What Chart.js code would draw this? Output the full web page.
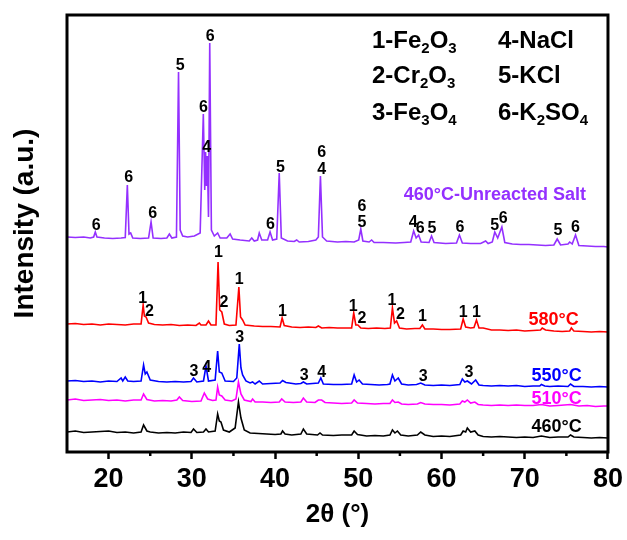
<!DOCTYPE html>
<html lang="en">
<head>
<meta charset="UTF-8" />
<title>XRD patterns - corrosion products</title>
<script src="https://cdn.jsdelivr.net/npm/chart.js"></script>
<style>
  html, body { margin: 0; padding: 0; background: #fff; }
</style>
</head>
<body>
<canvas id="xrd" width="627" height="540"></canvas>
<script>
// 2theta (deg) / intensity (a.u., stacked with offsets as in the figure)
const xrd460 = [[15,20],[16,21],[17,19.5],[18,20],[19,20.5],[20,21],[21,19.5],[22,20],[23,19],[23.9,20],[24.2,27],[24.6,21],[25,20],[26,19],[27,19.5],[28,19],[29,20],[29.9,19.5],[30.2,23],[30.6,19.5],[31.4,20],[31.7,23],[32,20],[32.8,21],[33.1,38],[33.3,31],[33.5,30],[33.8,22],[34.5,20],[35.2,24],[35.6,50],[35.9,34],[36.3,22],[37,19],[38,18.5],[39,18],[40,17.5],[40.7,18],[40.9,21],[41.2,18],[42,17],[43.1,18],[43.4,23],[43.8,18],[45.1,17],[45.4,19],[45.7,17],[47,16.5],[48,17],[49.2,17],[49.5,21],[49.9,17.5],[51,16],[52,16.5],[53,16],[53.8,17],[54.1,22],[54.4,19],[54.7,21],[55.1,17],[56,16],[57.1,17],[57.5,20],[58,17],[59,15.5],[60,16],[61,15.5],[62.3,17],[62.6,21],[62.9,20],[63.1,24],[63.5,20],[64,21],[64.4,17],[65,15.5],[66,15],[67,15.5],[68,15],[69,14.5],[70,15],[71,14.5],[72,16],[73,14.5],[74,15],[75.2,15],[75.5,17],[75.9,15],[77,14.5],[78,14],[79,14.5],[80,14]];

const xrd510 = [[15,52],[16,53],[17,51.5],[18,52],[19,52.5],[20,51.5],[21,52],[22,51],[23,52],[23.9,52],[24.2,58],[24.6,52.5],[25.5,51],[26.5,51.5],[27.5,51],[28.2,52],[28.5,55],[28.9,51.5],[30,50.5],[31.1,51],[31.5,59],[31.9,53],[32.5,51.5],[32.9,52],[33.1,65],[33.3,57],[33.6,56],[34,52],[34.8,51],[35.3,53],[35.6,70],[35.9,58],[36.3,52],[37.1,50.5],[37.3,53],[37.6,50],[38.5,50],[39.5,49.5],[40.5,50],[40.8,53],[41.2,50],[42.2,49.5],[43.1,50],[43.4,54],[43.8,50],[44.8,49.5],[45.2,52],[45.6,52],[46,49.5],[47,49],[48,48.5],[49.2,49],[49.5,52],[49.9,49],[51,48.5],[52,48],[53,48.5],[53.8,48.5],[54.1,52],[54.4,49.5],[54.8,50],[55.2,48],[56,47.5],[57.1,48],[57.5,49.5],[58,48],[59,47.5],[60,47.5],[61,47],[62.2,48],[62.5,51],[62.8,50],[63.1,52],[63.5,49],[64,50],[64.4,47.5],[65,47],[66,46.5],[67,47],[68,46.5],[69,47],[70,46.5],[71,46.5],[72,47.5],[73,46],[74,46.5],[75.5,47.5],[76.5,46],[77.5,46.5],[78.5,45.5],[79.5,46],[80,46]];

const xrd550 = [[15,71],[16,71.5],[17,70.5],[18,71],[19,70],[20,71],[21,70.5],[21.5,74],[21.7,71],[22,75],[22.3,71],[23,70.5],[23.9,71],[24.2,87],[24.4,78],[24.6,80],[25,72],[26,70.5],[27,70],[28,70.5],[29,70],[29.9,70.5],[30.2,74],[30.6,70],[31.4,71],[31.7,86],[32,71],[32.8,72],[33.1,101],[33.3,80],[33.6,79],[34,71],[35,70.5],[35.4,74],[35.7,108],[35.9,84],[36.1,77],[36.5,71],[37,69],[37.3,70],[37.6,68],[38.1,71],[38.5,68],[39.5,68.5],[40.6,69],[40.9,71.5],[41.3,69.5],[42.5,68],[43.1,68.5],[43.4,70],[43.8,68],[45.2,69],[45.5,74],[45.8,68],[47,67.5],[48,67.5],[49.2,68],[49.5,77],[49.8,70],[50.1,72],[50.5,68],[51.5,67.5],[52.5,67],[53.5,67.5],[53.8,68],[54.1,77],[54.4,71],[54.8,74],[55.2,68],[56,67],[57,67.5],[57.5,69],[58,67],[59,66.5],[60,67],[61,66.5],[62.2,67.5],[62.5,73],[62.8,70],[63.1,71],[63.6,68],[64.1,72],[64.5,67],[65,66.5],[66,66],[67,66.5],[68,66],[69,66.5],[70,65.5],[71,66],[71.8,66],[72,67.5],[72.4,66],[73,65.5],[74,66],[75.2,65.5],[75.5,68],[75.9,65.5],[77,65.5],[78,65],[79,65.5],[80,65]];

const xrd580 = [[15,128],[16,128.5],[17,127.5],[18,128],[19,127],[20,128],[21,127.5],[22,127],[23,128],[23.9,128],[24.15,147],[24.3,136],[24.5,135],[24.8,129],[25.5,127.5],[26.5,127],[27.5,127.5],[28.5,126.5],[29.5,127],[30.5,126.5],[30.9,129],[31.1,127],[31.7,127],[32,131],[32.3,127],[32.9,127],[33.15,190],[33.35,142],[33.6,140],[33.9,128],[34.5,126.5],[35.3,127],[35.65,165],[35.85,135],[36.1,132],[36.4,127],[37.5,126],[38.5,125.5],[39.5,125.5],[40.6,125],[40.85,134],[41.1,126.5],[42,125],[43,124.5],[44,125],[44.9,124.5],[45.2,126],[45.6,124],[46.5,124.5],[47.5,124],[48.5,124],[49.2,124],[49.45,139],[49.7,127],[49.95,127],[50.3,124],[51.2,123.5],[52.2,124],[53.2,123.5],[53.85,124],[54.1,144],[54.35,129],[54.6,131],[54.95,124],[55.8,123],[56.8,123.5],[57.4,123.5],[57.7,127],[58,123],[59,123],[60,122.5],[61,122.5],[62.3,123],[62.6,133],[62.9,125],[63.5,124],[63.9,124.5],[64.2,132],[64.5,124],[65,124],[66,122],[67,122],[68,121.5],[69,122],[70,121],[71,121.5],[71.9,122],[72.1,124],[72.5,122],[73.5,121],[74.5,120.5],[75.4,121],[75.6,124],[75.9,121],[77,120.5],[78,120],[79,120.5],[80,120]];

const xrdSalt = [[15,215],[16,214.5],[17,215],[17.8,214],[18.2,215],[18.4,220],[18.6,215],[19.5,214],[20.5,213.5],[21.5,214],[22,214.5],[22.25,267],[22.45,218],[22.65,219],[22.9,214],[23.8,213.5],[24.8,214],[25.1,230],[25.35,214],[26.3,213.5],[27,214],[27.3,218],[27.6,214],[28.15,215],[28.4,380],[28.6,222],[28.9,216],[29.5,215],[30.3,216],[31,219],[31.38,338],[31.55,262],[31.65,300],[31.76,266],[31.86,296],[32,235],[32.15,409],[32.35,222],[32.7,216],[33.1,219],[33.4,214],[34.2,214],[34.6,218],[34.9,213],[35.8,212],[36.9,211],[37.2,214],[37.5,211],[37.9,212],[38.1,219],[38.4,212],[39.1,212],[39.4,220],[39.7,212],[40.2,213],[40.5,279],[40.75,214],[41.5,211],[42.3,210.5],[42.6,212],[42.9,210],[44,210.5],[44.9,212],[45.2,215],[45.45,276],[45.7,215],[46.2,211],[47.5,210],[48.5,210.5],[49.5,210],[50.05,212],[50.3,223],[50.55,211],[51.3,210],[51.6,212],[51.9,209.5],[53,209.5],[54.5,209],[55.5,209.5],[56.3,210],[56.65,221],[56.95,214],[57.25,217],[57.55,210],[58.5,209.5],[58.8,216],[59.1,209.5],[60.5,208.5],[61.8,209],[62.15,217],[62.5,209],[63.5,208.5],[64.7,208.5],[65.3,211],[65.6,208.5],[66.1,210],[66.4,220],[66.75,214],[67.25,225],[67.6,209.5],[68.5,208],[69.5,207.5],[70.5,207.5],[71.5,207],[72.5,206.5],[73.5,207],[73.9,213],[74.3,207],[75.2,208],[75.4,210],[75.7,208],[76.1,217],[76.5,206.5],[77.5,206],[78.5,205.5],[79.5,205.5],[80,205]];

const xTickValues = [20, 30, 40, 50, 60, 70, 80];
const xMinorTicks = [25, 35, 45, 55, 65, 75];

// phase markers: [2theta, height, phase number]
const peakLabels = [
  [18.5,222,'6'],[22.4,270,'6'],[25.3,234,'6'],[28.6,382,'5'],[31.4,340,'6'],[31.8,300,'4'],[32.2,411,'6'],
  [39.45,223,'6'],[40.65,280,'5'],[45.6,295,'6'],[45.6,278,'4'],[50.45,241,'6'],[50.45,225,'5'],
  [56.6,225,'4'],[57.45,219,'6'],[58.85,219,'5'],[62.2,220,'6'],[66.4,222,'5'],[67.4,229,'6'],[74.0,217,'5'],[76.1,220,'6'],
  [24.1,149,'1'],[24.9,136,'2'],[33.2,195,'1'],[33.85,145,'2'],[35.7,168,'1'],[40.9,136,'1'],
  [49.4,141,'1'],[50.45,129,'2'],[54.05,147,'1'],[55.05,133,'2'],[57.7,131,'1'],[62.6,135,'1'],[64.2,135,'1'],
  [30.25,76,'3'],[31.8,80,'4'],[35.75,110,'3'],[43.5,72,'3'],[45.6,75,'4'],[57.8,71,'3'],[63.3,75,'3']
];

// sample names: [text, colour, 2theta, height]
const sampleNames = [
  ['460°C-Unreacted Salt', '#9430ff', 55.45, 252],
  ['580°C', '#ff0000', 70.45, 127],
  ['550°C', '#0000ff', 70.8, 71],
  ['510°C', '#ff00ff', 70.8, 48],
  ['460°C', '#000000', 70.8, 20]
];

// phase key, each entry split in [text, isSubscript]
const phaseKey = [
  [[['1-Fe',0],['2',1],['O',0],['3',1]], [['4-NaCl',0]]],
  [[['2-Cr',0],['2',1],['O',0],['3',1]], [['5-KCl',0]]],
  [[['3-Fe',0],['3',1],['O',0],['4',1]], [['6-K',0],['2',1],['SO',0],['4',1]]]
];

const FONT = '"Liberation Sans", Arial, sans-serif';

const annotations = {
  id: 'annotations',
  afterDraw(chart) {
    const { ctx, chartArea: a, scales: { x, y } } = chart;
    ctx.save();

    ctx.fillStyle = '#000';
    ctx.font = 'bold 16px ' + FONT;
    ctx.textAlign = 'center';
    ctx.textBaseline = 'alphabetic';
    peakLabels.forEach(([px, py, t]) => {
      ctx.fillText(t, x.getPixelForValue(px), y.getPixelForValue(py));
    });

    ctx.font = 'bold 18px ' + FONT;
    ctx.textAlign = 'left';
    sampleNames.forEach(([t, c, px, py]) => {
      ctx.fillStyle = c;
      ctx.fillText(t, x.getPixelForValue(px), y.getPixelForValue(py));
    });

    ctx.fillStyle = '#000';
    const colX = [a.left + 305, a.left + 431];
    const rowY = [a.top + 33, a.top + 68, a.top + 105];
    phaseKey.forEach((row, r) => {
      row.forEach((parts, c) => {
        let cx = colX[c];
        parts.forEach(([t, sub]) => {
          ctx.font = 'bold ' + (sub ? 15 : 24) + 'px ' + FONT;
          ctx.fillText(t, cx, rowY[r] + (sub ? 5 : 0));
          cx += ctx.measureText(t).width;
        });
      });
    });

    // frame
    ctx.strokeStyle = '#000';
    ctx.lineWidth = 3;
    ctx.strokeRect(a.left, a.top, a.right - a.left, a.bottom - a.top);

    // minor ticks
    ctx.lineWidth = 2.5;
    xMinorTicks.forEach(v => {
      const px = x.getPixelForValue(v);
      ctx.beginPath();
      ctx.moveTo(px, a.bottom);
      ctx.lineTo(px, a.bottom + 4);
      ctx.stroke();
    });

    // y axis title
    ctx.translate(25, (a.top + a.bottom) / 2 - 10);
    ctx.rotate(-Math.PI / 2);
    ctx.textAlign = 'center';
    ctx.textBaseline = 'middle';
    ctx.font = 'bold 28px ' + FONT;
    ctx.fillText('Intensity (a.u.)', 0, 0);
    ctx.restore();
  }
};

const toPts = arr => arr.map(([x, y]) => ({ x, y }));
const line = (label, arr, color) => ({
  label, data: toPts(arr), borderColor: color, borderWidth: 1.6,
  pointRadius: 0, tension: 0, fill: false
});

new Chart(document.getElementById('xrd'), {
  type: 'line',
  data: {
    datasets: [
      line('460°C', xrd460, '#000000'),
      line('510°C', xrd510, '#ff00ff'),
      line('550°C', xrd550, '#0000ff'),
      line('580°C', xrd580, '#ff0000'),
      line('460°C-Unreacted Salt', xrdSalt, '#9430ff')
    ]
  },
  options: {
    responsive: false,
    animation: false,
    layout: { padding: { top: 15, right: 18, left: 0, bottom: 0 } },
    plugins: { legend: { display: false }, tooltip: { enabled: false } },
    scales: {
      x: {
        type: 'linear',
        min: 15,
        max: 80,
        afterBuildTicks: s => { s.ticks = xTickValues.map(v => ({ value: v })); },
        afterFit: s => { s.height = 88; },
        ticks: {
          color: '#000',
          font: { family: FONT, size: 27, weight: 'bold' },
          padding: 4,
          maxRotation: 0,
          autoSkip: false
        },
        grid: {
          drawOnChartArea: false,
          drawTicks: true,
          tickLength: 7,
          tickWidth: 2.5,
          tickColor: '#000'
        },
        border: { display: false },
        title: {
          display: true,
          text: '2θ (°)',
          color: '#000',
          font: { family: FONT, size: 26, weight: 'bold' },
          padding: { top: 0, bottom: 10 }
        }
      },
      y: {
        min: 0,
        max: 437,
        afterFit: s => { s.width = 67; },
        ticks: { display: false },
        grid: { display: false },
        border: { display: false }
      }
    }
  },
  plugins: [annotations]
});
</script>
</body>
</html>
